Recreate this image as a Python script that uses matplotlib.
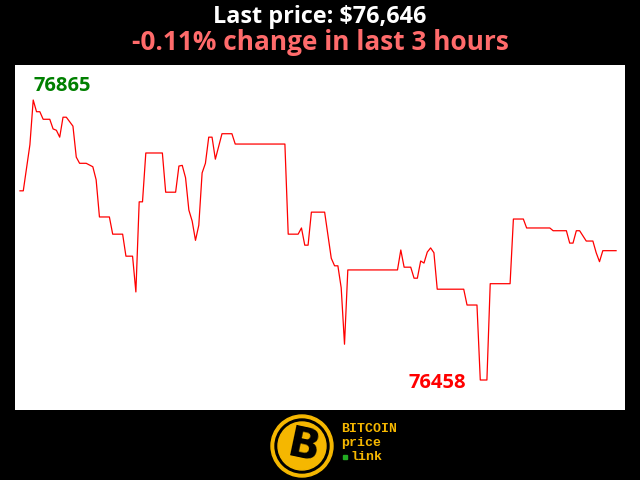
import numpy as np
import matplotlib.pyplot as plt
from matplotlib.patches import Circle

# minutos desde o início (janela de 3 horas) e preço do BTC em USD
minutos = [0, 1, 3, 4, 5, 6, 7, 9, 10, 11, 12, 13, 14, 16, 17, 18, 20, 22, 23, 24,
           27, 28, 31, 32, 34, 35, 36, 37, 38, 43, 44, 47, 48, 49, 50, 51, 52, 53, 54,
           55, 56, 57, 58, 59, 61, 64, 65, 80, 81, 84, 85, 86, 87, 88, 92, 94, 95, 96,
           97, 98, 99, 114, 115, 116, 118, 119, 120, 121, 122, 123, 124, 125, 126, 130,
           134, 135, 138, 139, 141, 142, 148, 149, 152, 153, 160, 161, 164, 165, 166,
           167, 168, 169, 171, 173, 174, 175, 176, 180]
precos = [76733, 76733, 76800, 76865, 76848, 76848, 76837, 76837, 76823, 76821, 76811,
          76840, 76840, 76827, 76782, 76773, 76773, 76768, 76749, 76695,
          76695, 76670, 76670, 76638, 76638, 76586, 76717, 76717, 76788, 76788, 76731,
          76731, 76769, 76770, 76752, 76705, 76689, 76661, 76683,
          76759, 76773, 76811, 76811, 76779, 76816, 76816, 76801, 76801, 76670, 76670,
          76679, 76654, 76654, 76702, 76702, 76635, 76624, 76624,
          76592, 76510, 76618, 76618, 76647, 76622, 76622, 76606, 76606, 76631, 76628,
          76644, 76650, 76643, 76590, 76590,
          76590, 76567, 76567, 76458, 76458, 76598, 76598, 76692, 76692, 76679, 76679,
          76675, 76675, 76675, 76657,
          76657, 76675, 76675, 76660, 76660, 76643, 76630, 76646, 76646]

ultimo = 76646
variacao = -0.11
preco_max = max(precos)
preco_min = min(precos)

fig = plt.figure(figsize=(6.4, 4.8), dpi=100, facecolor='black')
ax = fig.add_axes([15/640, 70/480, 610/640, 345/480])
ax.set_facecolor('white')
ax.plot(minutos, precos, color='red', linewidth=0.9)
ax.set_xlim(-1.5, 182.7)
ax.set_ylim(76414.4, 76915.9)
ax.set_xticks([])
ax.set_yticks([])
for s in ax.spines.values():
    s.set_visible(False)

# máximo e mínimo
i_max = precos.index(preco_max)
i_min = precos.index(preco_min)
ax.annotate(str(preco_max), (minutos[i_max], preco_max), xytext=(0, 3),
            textcoords='offset points', color='green', fontsize=14.5,
            fontweight='bold', family='Open Sans', ha='left', va='bottom')
ax.annotate(str(preco_min), (minutos[i_min], preco_min), xytext=(-10, -2),
            textcoords='offset points', color='red', fontsize=14.5,
            fontweight='bold', family='Open Sans', ha='right', va='center')

# título
fig.text(0.5, 1 - 17/480, f'Last price: ${ultimo:,}', color='white', fontsize=16.8,
         fontweight='bold', family='Open Sans', ha='center', va='center')
fig.text(0.5, 1 - 43/480, f'{variacao:.2f}% change in last 3 hours', color='#ff6b6b',
         fontsize=18.9, fontweight='bold', family='Open Sans', ha='center', va='center')

# logo
lx = fig.add_axes([0, 0, 1, 1], facecolor='none')
lx.set_xlim(0, 640)
lx.set_ylim(480, 0)
lx.axis('off')
ouro = '#f5b700'
lx.add_patch(Circle((302, 446), 31, color=ouro))
lx.add_patch(Circle((302, 446), 27, color='black'))
lx.add_patch(Circle((302, 446), 24, color=ouro))
lx.text(303, 447, 'B', color='black', fontsize=30, fontweight='bold', family='DejaVu Sans',
        ha='center', va='center', rotation=-12)
fonte_mono = dict(color=ouro, fontsize=9.5, fontweight='bold', family='Liberation Mono',
                  ha='left', va='center')
lx.text(341, 429, 'BITCOIN', **fonte_mono)
lx.text(341, 443, 'price', **fonte_mono)
lx.text(350, 457, 'link', **fonte_mono)
lx.plot([345], [457], 's', color='#22aa22', markersize=3)

fig.savefig('out.png', dpi=100, facecolor='black')
